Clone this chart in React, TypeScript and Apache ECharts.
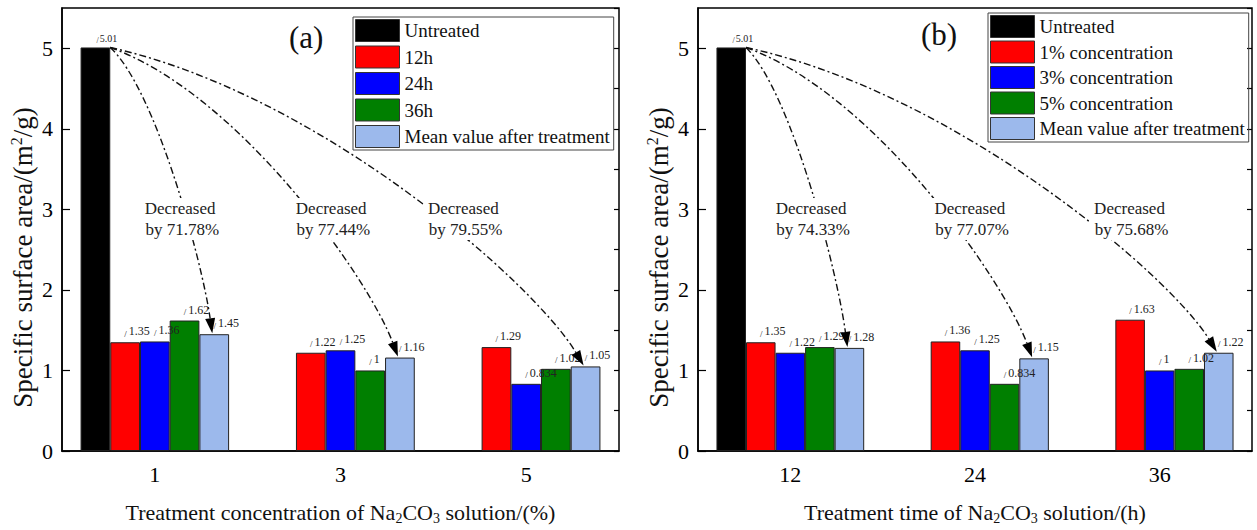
import React, { useEffect, useRef } from 'react';
import * as echarts from 'echarts';

// ---------- data ----------
const categoriesA = ['1', '3', '5'];
const categoriesB = ['12', '24', '36'];

const seriesNamesA = ['Untreated', '12h', '24h', '36h', 'Mean value after treatment'];
const seriesNamesB = ['Untreated', '1% concentration', '3% concentration', '5% concentration', 'Mean value after treatment'];

const untreatedA = [5.01, null, null];
const time12h = [1.35, 1.22, 1.29];
const time24h = [1.36, 1.25, 0.834];
const time36h = [1.62, 1, 1.02];
const meanA = [1.45, 1.16, 1.05];

const untreatedB = [5.01, null, null];
const conc1 = [1.35, 1.36, 1.63];
const conc3 = [1.22, 1.25, 1];
const conc5 = [1.29, 0.834, 1.02];
const meanB = [1.28, 1.15, 1.22];

const decreaseA = ['71.78%', '77.44%', '79.55%'];
const decreaseB = ['74.33%', '77.07%', '75.68%'];

const yMin = 0;
const yMax = 5.5;
const yInterval = 1;
const yMinorInterval = 0.5;
const annotationLevel = 2.88; // y value at which the "Decreased" notes sit

const colors = ['#000000', '#ff0000', '#0000ff', '#007f00', '#9cb9ec'];
const FONT = "'Liberation Serif', 'Times New Roman', Times, serif";

const labelRich = {
  s: { fontSize: 9, fontFamily: FONT, color: '#222', verticalAlign: 'bottom', lineHeight: 14, padding: [0, 2, 0, 0] },
  v: { fontSize: 12, fontFamily: FONT, color: '#222', lineHeight: 14 },
};
const labelRichSmall = {
  s: { fontSize: 8, fontFamily: FONT, color: '#222', verticalAlign: 'bottom', lineHeight: 12, padding: [0, 1, 0, 0] },
  v: { fontSize: 10, fontFamily: FONT, color: '#222', lineHeight: 12 },
};

function makeSeries(names: string[], data: (number | null)[][], xAxisIndex: number, yAxisIndex: number) {
  return names.map((name, i) => ({
    name,
    type: 'bar',
    xAxisIndex,
    yAxisIndex,
    barGap: '0%',
    barCategoryGap: '20%',
    data: data[i].map((v) => (v === null ? '-' : v)),
    itemStyle: { color: colors[i], borderColor: '#222', borderWidth: 1 },
    label: {
      show: true,
      position: i === 0 ? [16, -15] : [14, -18],
      formatter: (p: any) => `{s|/}{v|${p.value}}`,
      rich: i === 0 ? labelRichSmall : labelRich,
    },
    z: 2,
  }));
}

function makeXAxis(gridIndex: number, cats: string[], nameRich: string) {
  return {
    type: 'category',
    gridIndex,
    data: cats,
    axisTick: { show: false },
    axisLine: { lineStyle: { color: '#000', width: 1.5 } },
    axisLabel: { color: '#000', fontSize: 22, fontFamily: FONT, margin: 12 },
    name: nameRich,
    nameLocation: 'middle',
    nameGap: 48,
    nameTextStyle: {
      color: '#111',
      fontSize: 22,
      fontFamily: FONT,
      lineHeight: 26,
      rich: {
        sub: { fontSize: 14, fontFamily: FONT, color: '#111', verticalAlign: 'bottom', lineHeight: 10 },
      },
    },
  };
}

function makeYAxes(gridIndex: number) {
  return [
    {
      type: 'value',
      gridIndex,
      min: yMin,
      max: yMax,
      interval: yInterval,
      splitLine: { show: false },
      axisLine: { show: true, lineStyle: { color: '#000', width: 1.5 } },
      axisTick: { show: true, inside: true, length: 8, lineStyle: { color: '#000', width: 1.2 } },
      axisLabel: { color: '#000', fontSize: 22, fontFamily: FONT, margin: 9, showMaxLabel: false },
      name: 'Specific surface area/(m{sup|2}/g)',
      nameLocation: 'middle',
      nameRotate: 90,
      nameGap: 24,
      nameTextStyle: {
        color: '#111',
        fontSize: 27,
        fontFamily: FONT,
        lineHeight: 30,
        padding: [0, 56, 0, 0],
        rich: {
          sup: { fontSize: 16, fontFamily: FONT, color: '#111', verticalAlign: 'top', lineHeight: 14 },
        },
      },
    },
    {
      type: 'value',
      gridIndex,
      min: yMin,
      max: yMax,
      interval: yMinorInterval,
      splitLine: { show: false },
      axisLine: { show: false },
      axisTick: { show: true, inside: true, length: 5, lineStyle: { color: '#000', width: 1.2 } },
      axisLabel: { show: false },
    },
  ];
}

function makeLegend(names: string[], left: number, top: number, gap: number) {
  return {
    data: names,
    orient: 'vertical',
    left,
    top,
    icon: 'rect',
    itemWidth: 44,
    itemHeight: 22,
    itemGap: gap,
    selectedMode: false,
    borderColor: '#444',
    borderWidth: 1,
    padding: [2, 4, 2, 2],
    itemStyle: { borderColor: '#333', borderWidth: 1 },
    textStyle: { color: '#111', fontSize: 19, fontFamily: FONT, lineHeight: 22 },
  };
}

export default function App() {
  const ref = useRef<HTMLDivElement>(null);

  useEffect(() => {
    if (!ref.current) return;
    const chart = echarts.init(ref.current, undefined, { renderer: 'svg' });

    const option: any = {
      animation: false,
      backgroundColor: '#fff',
      grid: [
        { left: 62, top: 8, width: 557, height: 449, show: true, borderColor: '#000', borderWidth: 1.5, backgroundColor: 'transparent' },
        { left: 698, top: 8, width: 554, height: 449, show: true, borderColor: '#000', borderWidth: 1.5, backgroundColor: 'transparent' },
      ],
      xAxis: [
        makeXAxis(0, categoriesA, 'Treatment concentration of Na{sub|2}CO{sub|3} solution/(%)'),
        makeXAxis(1, categoriesB, 'Treatment time of Na{sub|2}CO{sub|3} solution/(h)'),
      ],
      yAxis: [...makeYAxes(0), ...makeYAxes(1)],
      legend: [makeLegend(seriesNamesA, 353, 17, 3.5), makeLegend(seriesNamesB, 988, 13, 2.5)],
      series: [
        ...makeSeries(seriesNamesA, [untreatedA, time12h, time24h, time36h, meanA], 0, 0),
        ...makeSeries(seriesNamesB, [untreatedB, conc1, conc3, conc5, meanB], 1, 2),
      ],
    };
    chart.setOption(option);

    const graphics: any[] = [];
    const lineStyle = { stroke: '#111', lineWidth: 1.4, lineDash: [7, 3, 2, 3], fill: null };

    const addAnnotations = (
      gridIndex: number,
      untreated: (number | null)[],
      mean: number[],
      dec: string[],
      shape: number[],
      textShift: number[],
    ) => {
      const p0 = chart.convertToPixel({ gridIndex }, [0, 0]) as number[];
      const p1 = chart.convertToPixel({ gridIndex }, [1, 0]) as number[];
      const band = p1[0] - p0[0];
      const bw = (band * 0.8) / 5;
      const s = chart.convertToPixel({ gridIndex }, [0, untreated[0] as number]) as number[];
      const sx = s[0] - 1.5 * bw;
      const sy = s[1];
      const textY = (chart.convertToPixel({ gridIndex }, [0, annotationLevel]) as number[])[1];
      mean.forEach((v, i) => {
        const e = chart.convertToPixel({ gridIndex }, [i, v]) as number[];
        const ex = e[0] + 2 * bw - 2;
        const ey = e[1] - 1;
        const dx = ex - sx;
        const dy = ey - sy;
        const c1 = [sx + shape[0] * dx, sy + shape[1] * dy];
        const c2 = [ex - shape[2] * dx, ey - shape[3] * dy];
        let tx = ex - c2[0];
        let ty = ey - c2[1];
        const n = Math.hypot(tx, ty);
        tx /= n;
        ty /= n;
        const L = 15;
        const W = 5;
        const bx = ex - tx * L;
        const by = ey - ty * L;
        graphics.push({
          type: 'bezierCurve',
          z: 10,
          silent: true,
          shape: { x1: sx, y1: sy, cpx1: c1[0], cpy1: c1[1], cpx2: c2[0], cpy2: c2[1], x2: bx, y2: by },
          style: lineStyle,
        });
        graphics.push({
          type: 'polygon',
          z: 10,
          silent: true,
          shape: { points: [[ex, ey], [bx - ty * W, by + tx * W], [bx + ty * W, by - tx * W]] },
          style: { fill: '#000' },
        });
        let crossX = sx;
        let best = Infinity;
        for (let k = 0; k <= 200; k++) {
          const t = k / 200;
          const a = (1 - t) ** 3;
          const b = 3 * (1 - t) ** 2 * t;
          const c = 3 * (1 - t) * t * t;
          const d = t ** 3;
          const px = a * sx + b * c1[0] + c * c2[0] + d * bx;
          const py = a * sy + b * c1[1] + c * c2[1] + d * by;
          const diff = Math.abs(py - textY);
          if (diff < best) {
            best = diff;
            crossX = px;
          }
        }
        graphics.push({
          type: 'text',
          z: 11,
          silent: true,
          x: crossX + textShift[i],
          y: textY,
          style: {
            text: `Decreased\n by ${dec[i]}`,
            fontSize: 17,
            fontFamily: FONT,
            fill: '#222',
            align: 'center',
            verticalAlign: 'middle',
            lineHeight: 21,
            backgroundColor: '#fff',
            padding: [0, 1],
          },
        });
      });
    };

    addAnnotations(0, untreatedA, meanA, decreaseA, [0.45, 0.15, 0.1, 0.25], [-7, 15, 21]);
    addAnnotations(1, untreatedB, meanB, decreaseB, [0.45, 0.15, 0.1, 0.25], [-9, 19, 44]);

    graphics.push({
      type: 'text',
      left: 289,
      top: 22,
      z: 11,
      style: { text: '(a)', fontSize: 31, fontFamily: FONT, fill: '#111' },
    });
    graphics.push({
      type: 'text',
      left: 921,
      top: 19,
      z: 11,
      style: { text: '(b)', fontSize: 31, fontFamily: FONT, fill: '#111' },
    });

    chart.setOption({ graphic: graphics });

    return () => {
      chart.dispose();
    };
  }, []);

  return (
    <div
      ref={ref}
      style={{ position: 'fixed', left: 0, top: 0, width: 1257, height: 530, background: '#fff' }}
    />
  );
}
